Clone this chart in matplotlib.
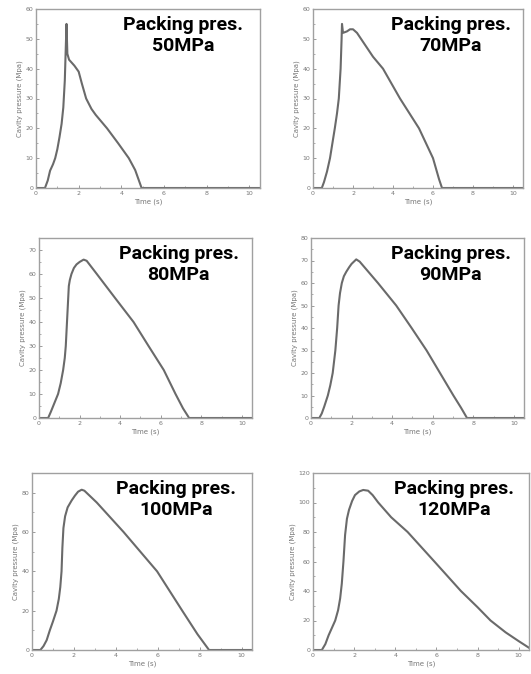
import matplotlib
matplotlib.use("Agg")
import matplotlib.pyplot as plt
from matplotlib.ticker import MultipleLocator

# pressure traces: time (s), cavity pressure (MPa)
t_50 = [0, 0.42, 0.55, 0.66, 0.8, 0.9, 1.0, 1.1, 1.2, 1.28, 1.35, 1.4, 1.43, 1.47, 1.55, 1.8, 2.0, 2.15, 2.35, 2.6, 2.8, 3.33, 3.85, 4.35, 4.65, 4.95, 10.5]
p_50 = [0, 0, 2.5, 5.8, 8, 10, 13, 17, 21.5, 27, 36, 48, 55, 45, 43, 41, 39, 35, 30, 26.5, 24.5, 20, 15, 10, 6, 0, 0]

t_70 = [0, 0.44, 0.55, 0.7, 0.85, 0.97, 1.09, 1.2, 1.29, 1.38, 1.43, 1.45, 1.5, 1.7, 1.85, 2.0, 2.2, 2.6, 3.0, 3.5, 4.35, 5.3, 6.0, 6.3, 6.45, 10.5]
p_70 = [0, 0, 2, 5.5, 10, 15, 20, 25, 30, 40, 50, 55, 52, 52.5, 53.2, 53.2, 52, 48, 44, 40, 30, 20, 10, 3, 0, 0]

t_80 = [0, 0.45, 0.58, 0.7, 0.82, 0.94, 1.07, 1.19, 1.27, 1.32, 1.38, 1.44, 1.47, 1.52, 1.6, 1.72, 1.85, 2.0, 2.2, 2.35, 2.85, 3.75, 4.66, 5.4, 6.15, 6.73, 7.1, 7.4, 10.5]
p_80 = [0, 0, 2.5, 5, 7.5, 10, 14.5, 20, 25, 30, 40, 50, 55, 57.5, 60, 62.5, 64, 65, 66, 65.5, 60, 50, 40, 30, 20, 10, 4, 0, 0]

t_90 = [0, 0.41, 0.53, 0.65, 0.83, 0.95, 1.07, 1.2, 1.29, 1.36, 1.43, 1.52, 1.62, 1.74, 1.88, 2.0, 2.23, 2.4, 3.3, 4.2, 4.96, 5.7, 6.36, 7.02, 7.4, 7.69, 10.5]
p_90 = [0, 0, 2, 5, 10, 14.5, 20, 30, 40, 50, 55.5, 60, 63, 65, 67, 68.5, 70.5, 69.5, 60, 50, 40, 30, 20, 10, 4.5, 0, 0]

t_100 = [0, 0.4, 0.55, 0.7, 0.85, 1.0, 1.17, 1.28, 1.35, 1.41, 1.45, 1.5, 1.58, 1.7, 1.89, 2.05, 2.2, 2.37, 2.5, 3.09, 4.37, 5.97, 7.17, 7.9, 8.45, 10.5]
p_100 = [0, 0, 2, 5, 10, 14.5, 20, 26, 32, 40, 52, 62, 68, 72.5, 76, 78.5, 80.5, 81.5, 81, 75, 60, 40, 20, 8, 0, 0]

t_120 = [0, 0.43, 0.6, 0.76, 0.92, 1.08, 1.22, 1.32, 1.4, 1.48, 1.56, 1.65, 1.75, 1.9, 2.04, 2.25, 2.44, 2.68, 2.9, 3.17, 3.8, 4.6, 5.9, 7.19, 8.0, 8.63, 9.36, 10.0, 10.5]
p_120 = [0, 0, 4, 10, 15, 20, 27, 35, 45, 60, 78, 89, 95, 101, 105, 107.5, 108.5, 108, 105, 100, 90, 80, 60, 40, 29, 20, 12, 6, 1.5]

labels = ["50MPa", "70MPa", "80MPa", "90MPa", "100MPa", "120MPa"]
times = [t_50, t_70, t_80, t_90, t_100, t_120]
pressures = [p_50, p_70, p_80, p_90, p_100, p_120]
y_tops = [60, 60, 75, 80, 90, 120]
y_steps = [10, 10, 10, 10, 20, 20]

# panel boxes in pixels: left, top, right, bottom
boxes = [(36, 9, 260, 188), (313, 9, 523, 188),
         (39, 238, 252, 418), (311, 238, 524, 418),
         (32, 473, 252, 650), (313, 473, 529, 650)]

W, H = 531, 674
fig = plt.figure(figsize=(W / 100, H / 100), dpi=100)

grey = "#8c8c8c"
for i in range(6):
    l, t, r, b = boxes[i]
    ax = fig.add_axes([l / W, 1 - b / H, (r - l) / W, (b - t) / H])
    ax.plot(times[i], pressures[i], color="#6a6a6a", lw=1.5)
    ax.set_xlim(0, 10.5)
    ax.set_ylim(0, y_tops[i])
    ax.xaxis.set_major_locator(MultipleLocator(2))
    ax.xaxis.set_minor_locator(MultipleLocator(1))
    ax.yaxis.set_major_locator(MultipleLocator(y_steps[i]))
    ax.yaxis.set_minor_locator(MultipleLocator(y_steps[i] / 2))
    ax.tick_params(which="both", direction="in", colors=grey, labelsize=4.5,
                   labelcolor="#777777", pad=2)
    ax.tick_params(which="major", length=2.5, width=0.6)
    ax.tick_params(which="minor", length=1.5, width=0.5)
    for s in ax.spines.values():
        s.set_color("#a0a0a0")
        s.set_linewidth(1.0)
    ax.set_xlabel("Time (s)", fontsize=5, color="#777777", labelpad=2)
    ax.set_ylabel("Cavity pressure (Mpa)", fontsize=5, color="#777777", labelpad=2)
    ax.text(0.655, 0.962, "Packing pres.\n" + labels[i], transform=ax.transAxes,
            ha="center", va="top", fontsize=14, fontweight="bold",
            family="Roboto", linespacing=1.25, color="black")

fig.savefig("out.png", dpi=100)
